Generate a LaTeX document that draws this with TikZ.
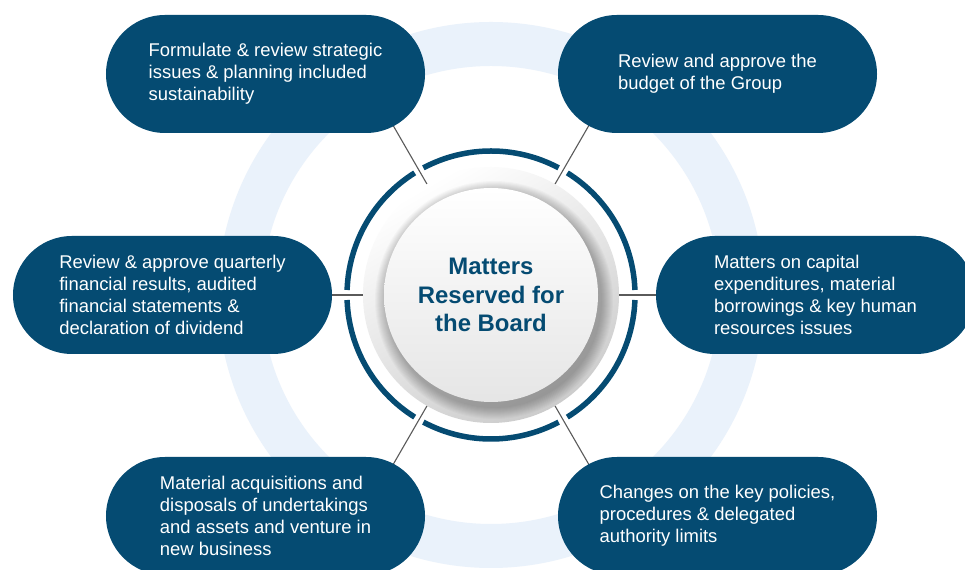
\documentclass[tikz,border=0pt]{standalone}
\usepackage{fontspec}
\setmainfont{Liberation Sans}
\usepackage{xcolor}
\usepackage{tikz}
\usetikzlibrary{calc}
\definecolor{navyx}{HTML}{054B72}
\definecolor{haloy}{HTML}{EAF2FB}
\definecolor{linkx}{HTML}{5A5A5A}
\tikzset{
  box/.style={fill=navyx,rounded corners=59bp,minimum width=319bp,minimum height=118bp,inner sep=0pt,align=left,text=white,font=\fontsize{18.5}{22}\selectfont},
  lnk/.style={linkx,line width=1.1bp},
  rim/.style={navyx,line width=5.5bp},
  halo/.style={haloy,line width=44bp}
}

\begin{document}
\begin{tikzpicture}[x=1bp,y=1bp]
\clip (0,0) rectangle (965,570);
\fill[white] (0,0) rectangle (965,570);
\draw[halo] (491,275) circle (251);
% broken rim round the hub
\foreach \a in {0,60,...,300}
  \draw[rim] ($(491,275)+(\a+2:144)$) arc[start angle=\a+2,end angle=\a+58,radius=144];
\node[circle,minimum size=256bp,inner sep=0pt,top color=white,bottom color=black!20,shading angle=30] (hub) at (491,275) {};
\foreach \s in {1,...,12}
  \fill[black,opacity=.025] ($(hub.center)+(3,-5)$) circle ({107+\s});
\node[circle,minimum size=214bp,inner sep=0pt,top color=white,bottom color=black!10,text=navyx,align=center,font=\bfseries\fontsize{24}{28.5}\selectfont] (core) at (hub.center) {Matters\\Reserved for\\the Board};
\foreach \a in {0,60,...,300}{
  \coordinate (tip\a) at ($(hub.center)+(\a:200)$);
  \draw[lnk] (hub.\a) -- (tip\a);
}
\node[box] (strat) at (265.5,496) {Formulate \& review strategic\\issues \& planning included\\sustainability};
\node[box] (budget) at (717.5,496) {Review and approve the\\budget of the Group};
\node[box] (results) at (172.5,275) {Review \& approve quarterly\\financial results, audited\\financial statements \&\\declaration of dividend};
\node[box] (capex) at (815.5,275) {Matters on capital\\expenditures, material\\borrowings \& key human\\resources issues};
\node[box] (deals) at (265.5,54) {Material acquisitions and\\disposals of undertakings\\and assets and venture in\\new business};
\node[box] (policy) at (717.5,54) {Changes on the key policies,\\procedures \& delegated\\authority limits};
\end{tikzpicture}
\end{document}
